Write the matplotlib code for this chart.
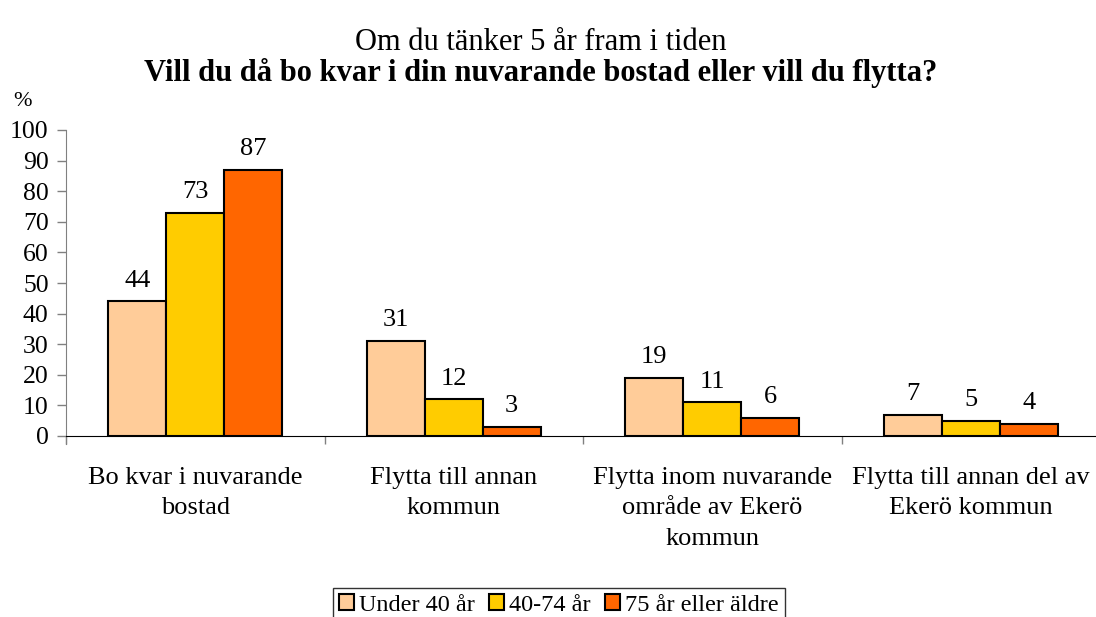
import matplotlib.pyplot as plt
import numpy as np

# - - - Data - - - #
categories = ['Bo kvar i nuvarande\nbostad',
              'Flytta till annan\nkommun',
              'Flytta inom nuvarande\nområde av Ekerö\nkommun',
              'Flytta till annan del av\nEkerö kommun']
under_40 = [44, 31, 19, 7]
age_40_74 = [73, 12, 11, 5]
over_75 = [87, 3, 6, 4]
series_names = ['Under 40 år', '40-74 år', '75 år eller äldre']
colors = ['#FFCC99', '#FFCC00', '#FF6600']

plt.rcParams['font.family'] = ['Liberation Serif', 'DejaVu Serif']
plt.rcParams['font.size'] = 19

fig = plt.figure(figsize=(10.96, 6.17), dpi=100)
ax = fig.add_axes([66 / 1096, 181 / 617, 1034 / 1096, 306 / 617])

x = np.arange(len(categories))
w = 0.224
for i, (vals, name, col) in enumerate(zip([under_40, age_40_74, over_75], series_names, colors)):
    pos = x + (i - 1) * w
    ax.bar(pos, vals, w, color=col, edgecolor='black', linewidth=1.5, label=name)
    for p, v in zip(pos, vals):
        ax.annotate(str(v), (p, v), xytext=(0, 7), textcoords='offset points',
                    ha='center', va='bottom', fontsize=19)

ax.set_xlim(-0.5, 3.5)
ax.set_ylim(0, 100)
ax.set_yticks(range(0, 101, 10))

# category labels without tick marks, separators as minor ticks
ax.set_xticks(x)
ax.set_xticklabels(categories, linespacing=1.5, fontsize=19)
ax.tick_params(axis='x', which='major', length=0, pad=22)
ax.set_xticks(np.arange(-0.5, 4, 1), minor=True)
ax.tick_params(axis='x', which='minor', length=6, color='#808080', width=1)
ax.tick_params(axis='y', length=6.5, color='#808080', width=1, pad=6, labelsize=18.5)

for s in ['top', 'right']:
    ax.spines[s].set_visible(False)
ax.spines['left'].set_color('#808080')
ax.spines['left'].set_bounds(-2.6, 100)
ax.spines['bottom'].set_color('black')

fig.text(22 / 1096, 1 - 102 / 617, '%', ha='center', va='center', fontsize=16)

fig.text(0.493, 1 - 42 / 617, 'Om du tänker 5 år fram i tiden', ha='center', va='center', fontsize=22)
fig.text(0.493, 1 - 73 / 617, 'Vill du då bo kvar i din nuvarande bostad eller vill du flytta?',
         ha='center', va='center', fontsize=22, fontweight='bold')

leg = fig.legend(loc='upper center', bbox_to_anchor=(0.5096, 1 - 588 / 617), ncol=3, frameon=True,
                 fancybox=False, edgecolor='black', handlelength=0.62, handleheight=0.62,
                 handletextpad=0.2, columnspacing=0.6, borderpad=0.25, borderaxespad=0,
                 fontsize=17.5)
leg.get_frame().set_linewidth(1.0)
for h in leg.legend_handles:
    h.set_linewidth(1.5)

fig.savefig('out.png', dpi=100)
